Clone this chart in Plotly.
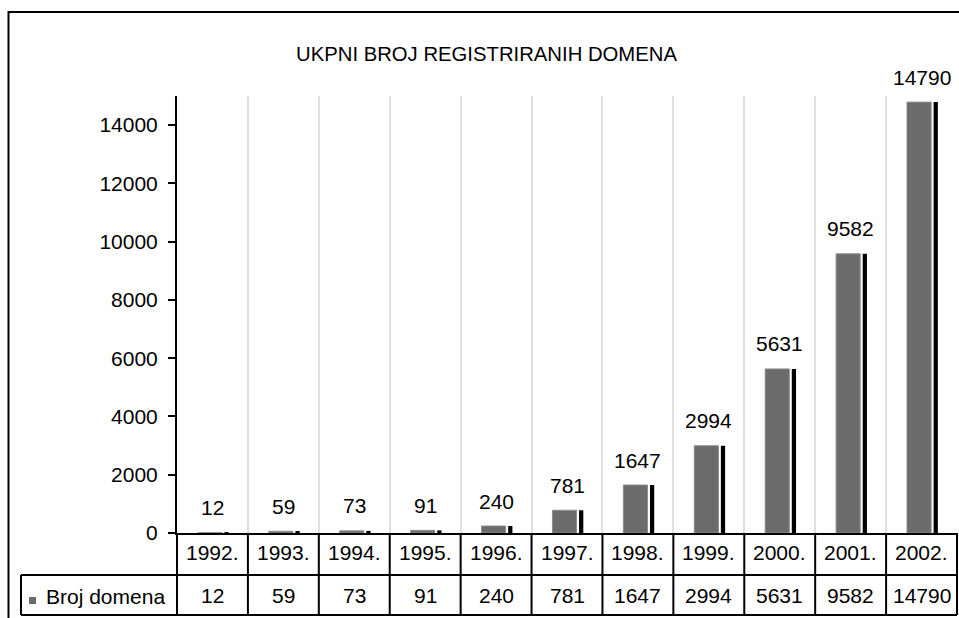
import plotly.graph_objects as go

title = "UKPNI BROJ REGISTRIRANIH DOMENA"
series_name = "Broj domena"
years = ["1992.", "1993.", "1994.", "1995.", "1996.", "1997.", "1998.", "1999.", "2000.", "2001.", "2002."]
domains = [12, 59, 73, 91, 240, 781, 1647, 2994, 5631, 9582, 14790]
y_ticks = [0, 2000, 4000, 6000, 8000, 10000, 12000, 14000]

FONT = "Liberation Sans, Arial, sans-serif"
W, H = 959, 618
L, R, T, B = 177, 2, 96, 85
pw, ph = W - L - R, H - T - B

def px_x(x):
    # pixel x -> paper x
    return (x - L) / pw

def px_y(y):
    # pixel y -> paper y
    return (H - B - y) / ph

idx = list(range(len(years)))
n = len(years)

fig = go.Figure()
fig.add_trace(go.Bar(x=idx, y=domains, width=0.34, offset=-0.205,
                     marker=dict(color="#6b6b6b", line=dict(color="#8c8c8c", width=1)),
                     hoverinfo="skip", showlegend=False))
fig.add_trace(go.Bar(x=idx, y=domains, width=0.06, offset=0.17,
                     marker=dict(color="black", line=dict(width=0)),
                     hoverinfo="skip", showlegend=False))

shapes = []
line = dict(color="black", width=2)
# outer chart border (right/bottom edges fall outside the picture)
shapes.append(dict(type="rect", xref="paper", yref="paper", x0=px_x(8.5), x1=px_x(970),
                   y0=px_y(630), y1=px_y(12), line=line))
# data table grid
for k in range(n + 1):
    shapes.append(dict(type="line", xref="paper", yref="paper", x0=k / n, x1=k / n,
                       y0=0, y1=px_y(615), line=line))
for yy in (575, 615):
    shapes.append(dict(type="line", xref="paper", yref="paper", x0=px_x(21), x1=1,
                       y0=px_y(yy), y1=px_y(yy), line=line))
shapes.append(dict(type="line", xref="paper", yref="paper", x0=px_x(21), x1=px_x(21),
                   y0=px_y(575), y1=px_y(615), line=line))
# legend key
shapes.append(dict(type="rect", xref="paper", yref="paper", x0=px_x(29), x1=px_x(36),
                   y0=px_y(604), y1=px_y(597), fillcolor="#6b6b6b", line=dict(width=0)))

annotations = []
for i, (yr, v) in enumerate(zip(years, domains)):
    annotations.append(dict(x=i, y=v, xref="x", yref="y", text=str(v), showarrow=False,
                            yanchor="middle", yshift=25, font=dict(size=21)))
    annotations.append(dict(x=i, y=px_y(552), xref="x", yref="paper", text=yr,
                            showarrow=False, yanchor="middle", font=dict(size=21)))
    annotations.append(dict(x=i, y=px_y(595), xref="x", yref="paper", text=str(v),
                            showarrow=False, yanchor="middle", font=dict(size=21)))
annotations.append(dict(x=px_x(44), y=px_y(596), xref="paper", yref="paper", text=series_name,
                        showarrow=False, xanchor="left", yanchor="middle", font=dict(size=21)))

fig.update_layout(
    width=W, height=H,
    margin=dict(l=L, r=R, t=T, b=B),
    paper_bgcolor="white", plot_bgcolor="white",
    font=dict(family=FONT, color="black", size=21),
    title=dict(text=title, x=486.5 / W, xanchor="center", y=1 - 54 / H, yanchor="middle",
               font=dict(size=20.3)),
    barmode="overlay",
    xaxis=dict(range=[-0.5, n - 0.5], tickvals=[k + 0.5 for k in range(n)],
               showticklabels=False, ticks="", showgrid=True, gridcolor="#e0e0e0", gridwidth=2,
               showline=True, linecolor="black", linewidth=2, zeroline=False, fixedrange=True),
    yaxis=dict(range=[0, 15000], tickvals=y_ticks, tickformat="d", ticks="outside", ticklen=7,
               tickwidth=2, tickcolor="black", ticklabelstandoff=6, showgrid=False, zeroline=False,
               showline=True, linecolor="black", linewidth=2, tickfont=dict(size=21),
               fixedrange=True),
    shapes=shapes,
    annotations=annotations,
)

fig.write_html("out.html", config={"displayModeBar": False},
               post_script="document.body.style.margin='0';")
